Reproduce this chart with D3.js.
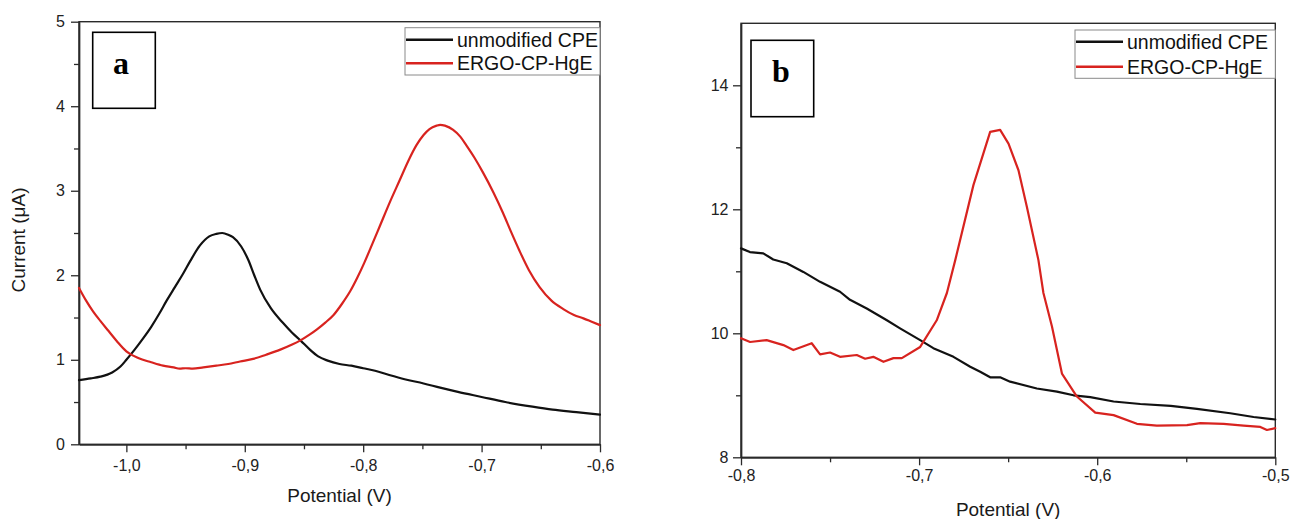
<!DOCTYPE html>
<html>
<head>
<meta charset="utf-8">
<script src="https://cdn.jsdelivr.net/npm/d3@7"></script>
<style>
  html, body { margin: 0; padding: 0; background: #fff; }
  svg { display: block; }
</style>
</head>
<body>
<svg id="chart" width="1290" height="519"></svg>
<script>
// ---- Panel a: DPV, potential (V) vs current (µA) ----
const potentialA_cpe = [-1.040,-1.030,-1.022,-1.012,-1.005,-1.000,-0.993,-0.986,-0.979,-0.972,-0.966,-0.959,-0.952,-0.946,-0.938,-0.930,-0.924,-0.919,-0.914,-0.910,-0.903,-0.897,-0.892,-0.887,-0.878,-0.868,-0.860,-0.853,-0.845,-0.838,-0.830,-0.820,-0.810,-0.800,-0.790,-0.778,-0.765,-0.749,-0.735,-0.720,-0.700,-0.680,-0.657,-0.640,-0.620,-0.600];
const currentA_cpe   = [0.76,0.78,0.80,0.85,0.92,1.00,1.12,1.25,1.39,1.55,1.70,1.86,2.02,2.17,2.35,2.46,2.49,2.50,2.48,2.45,2.34,2.18,2.00,1.83,1.61,1.44,1.32,1.23,1.12,1.04,0.99,0.95,0.93,0.90,0.87,0.82,0.77,0.72,0.67,0.62,0.56,0.50,0.445,0.41,0.38,0.35];

const potentialA_ergo = [-1.040,-1.034,-1.028,-1.022,-1.015,-1.008,-1.000,-0.990,-0.979,-0.969,-0.960,-0.955,-0.950,-0.944,-0.935,-0.924,-0.914,-0.904,-0.893,-0.882,-0.870,-0.860,-0.853,-0.845,-0.839,-0.832,-0.825,-0.818,-0.811,-0.805,-0.799,-0.792,-0.786,-0.777,-0.769,-0.762,-0.755,-0.749,-0.744,-0.738,-0.735,-0.731,-0.724,-0.718,-0.713,-0.706,-0.699,-0.690,-0.682,-0.675,-0.668,-0.660,-0.651,-0.641,-0.631,-0.622,-0.614,-0.607,-0.600];
const currentA_ergo   = [1.85,1.70,1.57,1.46,1.34,1.22,1.10,1.02,0.97,0.93,0.91,0.895,0.90,0.895,0.91,0.93,0.95,0.98,1.01,1.06,1.12,1.18,1.23,1.30,1.36,1.44,1.53,1.66,1.81,1.97,2.15,2.38,2.58,2.88,3.13,3.35,3.54,3.66,3.73,3.77,3.78,3.77,3.72,3.64,3.54,3.39,3.22,2.98,2.74,2.51,2.29,2.06,1.86,1.70,1.60,1.53,1.49,1.45,1.41];

// ---- Panel b ----
const potentialB_cpe = [-0.800,-0.795,-0.7875,-0.7819,-0.7743,-0.765,-0.7556,-0.7444,-0.7388,-0.7294,-0.7181,-0.7107,-0.6994,-0.692,-0.6807,-0.6713,-0.6657,-0.6601,-0.6545,-0.6489,-0.6339,-0.6226,-0.6133,-0.6039,-0.5908,-0.5758,-0.5587,-0.544,-0.5253,-0.5122,-0.500];
const currentB_cpe   = [11.37,11.31,11.29,11.19,11.13,10.99,10.83,10.67,10.54,10.40,10.21,10.08,9.89,9.76,9.62,9.46,9.38,9.29,9.29,9.22,9.11,9.06,9.00,8.97,8.90,8.86,8.83,8.78,8.71,8.65,8.61];

const potentialB_ergo = [-0.800,-0.7949,-0.7856,-0.7762,-0.7706,-0.7603,-0.7556,-0.750,-0.7444,-0.735,-0.7303,-0.7257,-0.720,-0.7144,-0.7097,-0.6994,-0.6901,-0.6844,-0.6797,-0.6695,-0.6601,-0.6545,-0.6498,-0.6442,-0.6395,-0.633,-0.6302,-0.6254,-0.6198,-0.6114,-0.6011,-0.5908,-0.5777,-0.5665,-0.5496,-0.5421,-0.529,-0.5178,-0.5084,-0.5047,-0.500];
const currentB_ergo   = [9.92,9.86,9.89,9.81,9.73,9.84,9.66,9.69,9.62,9.65,9.59,9.62,9.54,9.60,9.60,9.78,10.21,10.65,11.18,12.39,13.25,13.28,13.06,12.63,12.04,11.18,10.65,10.11,9.35,8.98,8.72,8.68,8.54,8.51,8.52,8.55,8.54,8.51,8.49,8.44,8.47];

// ---- Axis ticks ----
const xTicksA = [-1.0,-0.9,-0.8,-0.7,-0.6];
const xMinorA = [-0.95,-0.85,-0.75,-0.65];
const yTicksA = [0,1,2,3,4,5];
const yMinorA = [0.5,1.5,2.5,3.5,4.5];
const xTicksB = [-0.8,-0.7,-0.6,-0.5];
const xMinorB = [-0.75,-0.65,-0.55];
const yTicksB = [8,10,12,14];
const yMinorB = [9,11,13];

const seriesNames = ["unmodified CPE", "ERGO-CP-HgE"];
const seriesColors = ["#111111", "#d8231f"];

const SANS = "'Liberation Sans', Arial, sans-serif";
const SERIF = "'Liberation Serif', 'Times New Roman', serif";

const svg = d3.select("#chart");
const commaFmt = d => d.toFixed(1).replace(".", ",");

function panel(cfg) {
  const x = d3.scaleLinear().domain(cfg.xDomain).range([cfg.left, cfg.right]);
  const y = d3.scaleLinear().domain(cfg.yDomain).range([cfg.bottom, cfg.top]);
  const g = svg.append("g");

  // frame
  g.append("rect")
    .attr("x", cfg.left).attr("y", cfg.top)
    .attr("width", cfg.right - cfg.left).attr("height", cfg.bottom - cfg.top)
    .attr("fill", "none").attr("stroke", "#2a2a2a").attr("stroke-width", 1.4);

  // x axis
  g.append("g").attr("transform", `translate(0,${cfg.bottom})`)
    .call(d3.axisBottom(x).tickValues(cfg.xTicks).tickFormat(commaFmt)
      .tickSize(8).tickSizeOuter(0).tickPadding(cfg.xPad));
  g.append("g").attr("transform", `translate(0,${cfg.bottom})`)
    .call(d3.axisBottom(x).tickValues(cfg.xMinor).tickFormat("").tickSize(5).tickSizeOuter(0));

  // y axis
  g.append("g").attr("transform", `translate(${cfg.left},0)`)
    .call(d3.axisLeft(y).tickValues(cfg.yTicks).tickFormat(d3.format("d"))
      .tickSize(8).tickSizeOuter(0).tickPadding(cfg.yPad));
  g.append("g").attr("transform", `translate(${cfg.left},0)`)
    .call(d3.axisLeft(y).tickValues(cfg.yMinor).tickFormat("").tickSize(5).tickSizeOuter(0));

  g.selectAll(".domain").attr("stroke", "#2a2a2a").attr("stroke-width", 1.4);
  g.selectAll(".tick line").attr("stroke", "#2a2a2a").attr("stroke-width", 1.3);
  g.selectAll(".tick text").style("font-size", "16px").style("fill", "#222")
    .style("font-family", SANS);

  // curves
  const line = d3.line().curve(cfg.curve)
    .x(d => x(d[0])).y(d => y(d[1]));
  cfg.series.forEach((s, i) => {
    const pts = s.v.map((v, k) => [v, s.c[k]]);
    g.append("path").datum(pts)
      .attr("d", line)
      .attr("fill", "none")
      .attr("stroke", seriesColors[i])
      .attr("stroke-width", 2.2)
      .attr("stroke-linejoin", "round")
      .attr("stroke-linecap", "round");
  });

  // x title
  g.append("text").attr("x", (cfg.left + cfg.right) / 2).attr("y", cfg.xTitleY)
    .attr("text-anchor", "middle")
    .style("font-family", SANS).style("font-size", "19px").style("fill", "#1a1a1a")
    .text("Potential (V)");

  // legend
  const lg = cfg.legend;
  g.append("rect").attr("x", lg.x).attr("y", lg.y).attr("width", cfg.right - lg.x).attr("height", lg.h)
    .attr("fill", "#fff").attr("stroke", "#8a8a8a").attr("stroke-width", 1);
  seriesNames.forEach((name, i) => {
    const ly = lg.y + lg.line0 + i * lg.step;
    g.append("line").attr("x1", lg.x + 1).attr("x2", lg.x + 48)
      .attr("y1", ly).attr("y2", ly)
      .attr("stroke", seriesColors[i]).attr("stroke-width", 2.4);
    g.append("text").attr("x", lg.x + 52).attr("y", ly + 6.8)
      .style("font-family", SANS).style("font-size", "19.5px").style("fill", "#111")
      .text(name);
  });

  // panel letter box
  const b = cfg.badge;
  g.append("rect").attr("x", b.x).attr("y", b.y).attr("width", b.w).attr("height", b.h)
    .attr("fill", "#fff").attr("stroke", "#000").attr("stroke-width", 1.6);
  g.append("text").attr("x", b.tx).attr("y", b.ty).attr("text-anchor", "middle")
    .style("font-family", SERIF).style("font-weight", "bold").style("font-size", "32px")
    .style("fill", "#000").text(b.label);

  return g;
}

panel({
  left: 79, right: 600, top: 21.7, bottom: 444.3,
  xDomain: [-1.04, -0.6], yDomain: [0, 5],
  xTicks: xTicksA, xMinor: xMinorA, yTicks: yTicksA, yMinor: yMinorA,
  xPad: 7, yPad: 6, xTitleY: 502,
  curve: d3.curveMonotoneX,
  series: [{v: potentialA_cpe, c: currentA_cpe}, {v: potentialA_ergo, c: currentA_ergo}],
  legend: {x: 405, y: 27.7, h: 47.3, line0: 12, step: 23.5},
  badge: {x: 92.7, y: 32.3, w: 62.6, h: 76, tx: 121, ty: 74, label: "a"}
});

panel({
  left: 741, right: 1275.3, top: 23.3, bottom: 457.3,
  xDomain: [-0.8, -0.5], yDomain: [8, 15],
  xTicks: xTicksB, xMinor: xMinorB, yTicks: yTicksB, yMinor: yMinorB,
  xPad: 4.5, yPad: 4.5, xTitleY: 516,
  curve: d3.curveLinear,
  series: [{v: potentialB_cpe, c: currentB_cpe}, {v: potentialB_ergo, c: currentB_ergo}],
  legend: {x: 1075, y: 30, h: 48.3, line0: 11.7, step: 25},
  badge: {x: 751, y: 40.3, w: 62.7, h: 76.4, tx: 781, ty: 82, label: "b"}
});

// y title for panel a
svg.append("text")
  .attr("transform", "translate(25,240) rotate(-90)")
  .attr("text-anchor", "middle")
  .style("font-family", SANS).style("font-size", "19px").style("fill", "#1a1a1a")
  .text("Current (\u03BCA)");
</script>
</body>
</html>
